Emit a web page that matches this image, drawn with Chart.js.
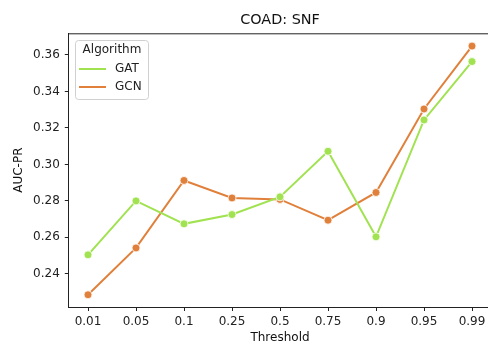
<!DOCTYPE html>
<html>
<head>
<meta charset="utf-8">
<script src="https://cdn.jsdelivr.net/npm/chart.js@4.4.1/dist/chart.umd.min.js"></script>
<style>
  html, body { margin: 0; padding: 0; background: #fff; overflow: hidden; }
  canvas { display: block; }
</style>
</head>
<body>
<canvas id="snfChart" width="488" height="345"></canvas>
<script>
// valores AUC-PR por threshold
const thresholds = ['0.01', '0.05', '0.1', '0.25', '0.5', '0.75', '0.9', '0.95', '0.99'];
const gatAuc = [0.2504, 0.2800, 0.2674, 0.2725, 0.2822, 0.3072, 0.2603, 0.3244, 0.3564];
const gcnAuc = [0.2285, 0.2542, 0.2912, 0.2816, 0.2808, 0.2694, 0.2846, 0.3304, 0.3649];
const yTicks = [0.24, 0.26, 0.28, 0.30, 0.32, 0.34, 0.36];

const GAT_COLOR = '#a0e24f';
const GCN_COLOR = '#e0803b';
const FONT = 'DejaVu Sans';

Chart.defaults.font.family = FONT;
Chart.defaults.color = '#222';

const toPoints = vals => vals.map((v, i) => ({ x: i, y: v }));

// o eixo x vai de -0.4 a 8.4, mas a figura corta na borda direita
const X_MIN = -0.4;
const X_FULL = 8.4;
const X_MAX = 8.333;

// título + rótulo do x centrados no plot inteiro, borda de cima e legenda "Algorithm"
const frameLegend = {
  id: 'frameLegend',
  afterDraw(chart) {
    const { ctx, chartArea: a } = chart;
    const xs = chart.scales.x;
    const midX = (xs.getPixelForValue(X_MIN) + xs.getPixelForValue(X_FULL)) / 2;
    ctx.save();
    ctx.strokeStyle = '#222';
    ctx.lineWidth = 1;
    ctx.beginPath();
    ctx.moveTo(a.left, a.top + 0.5);
    ctx.lineTo(a.right, a.top + 0.5);
    ctx.stroke();

    ctx.fillStyle = '#111';
    ctx.font = '14.4px ' + FONT;
    ctx.textAlign = 'center';
    ctx.textBaseline = 'middle';
    ctx.fillText('COAD: SNF', midX, 20);

    ctx.font = '12px ' + FONT;
    ctx.fillText('Threshold', midX, 337.5);

    // caixa da legenda
    const bx = 75.5, by = 40.5, bw = 73, bh = 59;
    ctx.fillStyle = 'rgba(255,255,255,0.8)';
    ctx.strokeStyle = '#d0d0d0';
    ctx.beginPath();
    ctx.roundRect(bx, by, bw, bh, 3);
    ctx.fill();
    ctx.stroke();

    ctx.fillStyle = '#222';
    ctx.fillText('Algorithm', bx + bw / 2, 50);

    ctx.textAlign = 'left';
    ctx.lineWidth = 2;
    chart.data.datasets.forEach((ds, i) => {
      const y = 69 + i * 18;
      ctx.strokeStyle = ds.borderColor;
      ctx.beginPath();
      ctx.moveTo(79, y);
      ctx.lineTo(106, y);
      ctx.stroke();
      ctx.fillStyle = '#222';
      ctx.fillText(ds.label, 115, y);
    });
    ctx.restore();
  }
};

const ctx = document.getElementById('snfChart').getContext('2d');
new Chart(ctx, {
  type: 'line',
  data: {
    datasets: [{
      label: 'GAT',
      data: toPoints(gatAuc),
      borderColor: GAT_COLOR,
      backgroundColor: GAT_COLOR,
      borderWidth: 2,
      pointRadius: 4,
      pointBorderColor: '#fff',
      pointBorderWidth: 0.8,
      tension: 0
    }, {
      label: 'GCN',
      data: toPoints(gcnAuc),
      borderColor: GCN_COLOR,
      backgroundColor: GCN_COLOR,
      borderWidth: 2,
      pointRadius: 4,
      pointBorderColor: '#fff',
      pointBorderWidth: 0.8,
      tension: 0
    }]
  },
  options: {
    responsive: false,
    animation: false,
    layout: { autoPadding: false, padding: { top: 33.3, left: 0, right: 0, bottom: 0 } },
    plugins: {
      legend: { display: false },
      tooltip: { enabled: false },
      title: { display: false }
    },
    scales: {
      x: {
        type: 'linear',
        min: X_MIN,
        max: X_MAX,
        afterBuildTicks: s => { s.ticks = thresholds.map((_, i) => ({ value: i })); },
        afterFit: s => { s.height = 38; s.paddingRight = 0; },
        ticks: {
          callback: v => thresholds[v],
          font: { size: 12 },
          color: '#222',
          padding: 4,
          maxRotation: 0,
          autoSkip: false
        },
        grid: { drawOnChartArea: false, drawTicks: true, tickLength: 4, color: '#222' },
        border: { color: '#222', width: 1 },
        title: { display: false }
      },
      y: {
        min: 0.2218,
        max: 0.3719,
        afterBuildTicks: s => { s.ticks = yTicks.map(v => ({ value: v })); },
        afterFit: s => { s.width = 68.8; },
        ticks: {
          callback: v => v.toFixed(2),
          font: { size: 12 },
          color: '#222',
          padding: 5
        },
        grid: { drawOnChartArea: false, drawTicks: true, tickLength: 4, color: '#222' },
        border: { color: '#222', width: 1 },
        title: { display: true, text: 'AUC-PR', font: { size: 12 }, color: '#111', padding: { top: 12, bottom: 0 } }
      }
    }
  },
  plugins: [frameLegend]
});
</script>
</body>
</html>
